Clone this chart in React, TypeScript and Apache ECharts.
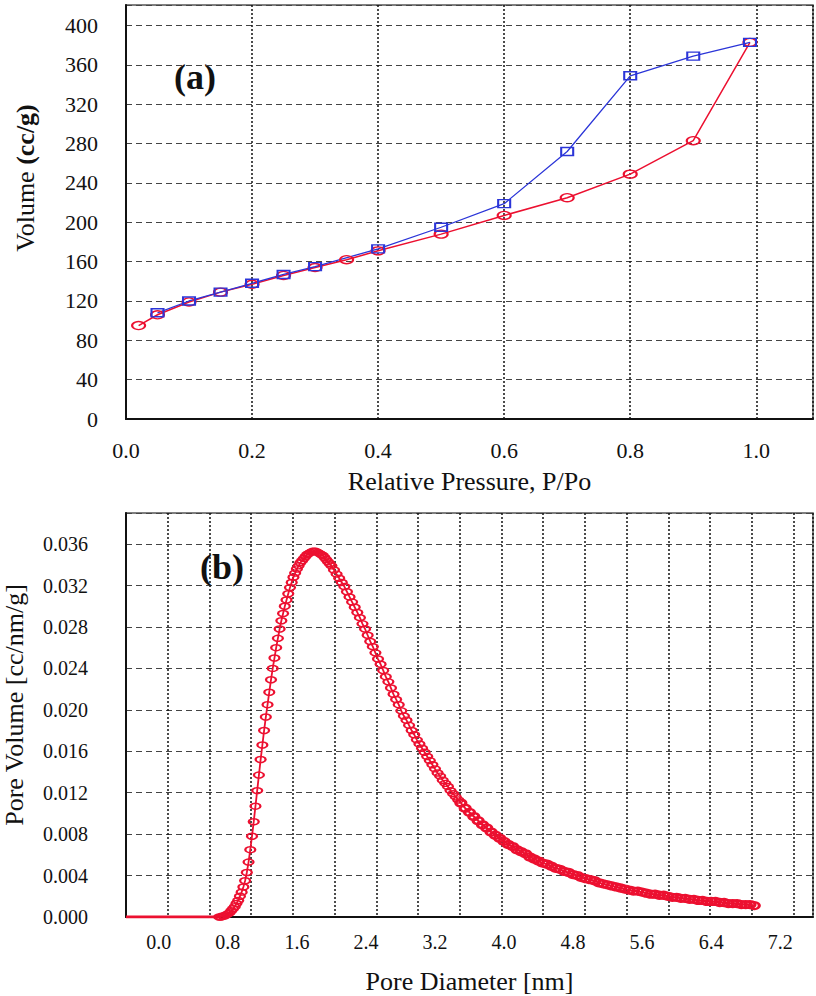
import React, { useEffect, useRef } from "react";
import * as echarts from "echarts";

// ---------- (a) N2 isotherm ----------
const adsP = [0.02, 0.05, 0.1, 0.15, 0.2, 0.25, 0.3, 0.35, 0.4, 0.5, 0.6, 0.7, 0.8, 0.9, 0.99];
const adsV = [95, 106, 119, 129, 137, 146, 154, 162, 171, 188, 207, 225, 249, 283, 383];
const desP = [0.05, 0.1, 0.15, 0.2, 0.25, 0.3, 0.4, 0.5, 0.6, 0.7, 0.8, 0.9, 0.99];
const desV = [108, 120, 129, 138, 147, 155, 173, 195, 219, 272, 349, 369, 383];

// ---------- (b) pore size distribution ----------
const psdBaseline: [number, number][] = [[-0.38, 0], [0.72, 0]];
const psdRise: [number, number][] = [
  [0.7, 0.0], [0.72, 0.0], [0.74, 0.0001], [0.76, 0.0001], [0.78, 0.0002], [0.8, 0.0003],
  [0.82, 0.0004], [0.84, 0.0006], [0.86, 0.0008], [0.88, 0.001], [0.9, 0.0013], [0.92, 0.0016],
  [0.94, 0.002], [0.96, 0.0024], [0.98, 0.0029], [1.0, 0.0035], [1.02, 0.0043], [1.04, 0.0053],
  [1.06, 0.0065], [1.08, 0.0078], [1.1, 0.0092], [1.12, 0.0107], [1.14, 0.0122], [1.16, 0.0137],
  [1.18, 0.0152], [1.2, 0.0166], [1.22, 0.018], [1.24, 0.0193], [1.26, 0.0205], [1.28, 0.0217],
  [1.3, 0.0229], [1.32, 0.024], [1.34, 0.025], [1.36, 0.026], [1.38, 0.0269], [1.4, 0.0278],
  [1.42, 0.0286], [1.44, 0.0293], [1.46, 0.03], [1.48, 0.0306], [1.5, 0.0312], [1.52, 0.0318],
  [1.54, 0.0323], [1.56, 0.0328], [1.58, 0.0332], [1.6, 0.0336], [1.62, 0.0339], [1.64, 0.0342],
  [1.66, 0.0344], [1.68, 0.0346], [1.7, 0.0348], [1.72, 0.035], [1.74, 0.0351], [1.76, 0.0352],
  [1.78, 0.0353], [1.8, 0.0353], [1.82, 0.0353], [1.84, 0.0352], [1.86, 0.0351], [1.88, 0.035],
  [1.9, 0.0349], [1.92, 0.0347], [1.94, 0.0345], [1.96, 0.0343], [1.98, 0.0341], [2.0, 0.0339],
];
const psdFall: [number, number][] = [
  [2.03, 0.0335], [2.06, 0.0331], [2.09, 0.0327], [2.12, 0.0323], [2.15, 0.0319], [2.18, 0.0314],
  [2.21, 0.0309], [2.24, 0.0304], [2.27, 0.0299], [2.3, 0.0294], [2.33, 0.0289], [2.36, 0.0283],
  [2.39, 0.0278], [2.42, 0.0272], [2.45, 0.0266], [2.48, 0.0261], [2.51, 0.0255], [2.54, 0.0249],
  [2.57, 0.0244], [2.6, 0.0238], [2.63, 0.0232], [2.66, 0.0227], [2.69, 0.0221], [2.72, 0.0215],
  [2.75, 0.021], [2.78, 0.0205], [2.81, 0.0199], [2.84, 0.0194], [2.87, 0.019], [2.9, 0.0185],
  [2.93, 0.018], [2.96, 0.0176], [2.99, 0.0171], [3.02, 0.0167], [3.05, 0.0163], [3.08, 0.0159],
  [3.11, 0.0155], [3.14, 0.0151], [3.17, 0.0147], [3.2, 0.0143], [3.23, 0.0139], [3.26, 0.0136],
  [3.29, 0.0132], [3.32, 0.0129], [3.35, 0.0126], [3.38, 0.0122], [3.41, 0.0119], [3.44, 0.0116],
  [3.47, 0.0113], [3.5, 0.011],
];
const psdTail: [number, number][] = [
  [3.5, 0.011],
  [3.55, 0.0105], [3.6, 0.0101], [3.65, 0.0097], [3.7, 0.0093], [3.75, 0.0089], [3.8, 0.0086],
  [3.85, 0.0082], [3.9, 0.0079], [3.95, 0.0076], [4.0, 0.0073], [4.05, 0.007], [4.1, 0.0068],
  [4.15, 0.0065], [4.2, 0.0063], [4.25, 0.0061], [4.3, 0.0058], [4.35, 0.0056], [4.4, 0.0054],
  [4.45, 0.0052], [4.5, 0.0051], [4.55, 0.0049], [4.6, 0.0047], [4.65, 0.0046], [4.7, 0.0044],
  [4.75, 0.0043], [4.8, 0.0041], [4.85, 0.004], [4.9, 0.0038], [4.95, 0.0037], [5.0, 0.0036],
  [5.05, 0.0035], [5.1, 0.0033], [5.15, 0.0032], [5.2, 0.0031], [5.25, 0.003], [5.3, 0.0029],
  [5.35, 0.0028], [5.4, 0.0027], [5.45, 0.0026], [5.5, 0.0025], [5.55, 0.0025], [5.6, 0.0024],
  [5.65, 0.0023], [5.7, 0.0022], [5.75, 0.0022], [5.8, 0.0021], [5.85, 0.0021], [5.9, 0.002],
  [5.95, 0.0019], [6.0, 0.0019], [6.05, 0.0018], [6.1, 0.0018], [6.15, 0.0017], [6.2, 0.0017],
  [6.25, 0.0016], [6.3, 0.0016], [6.35, 0.0015], [6.4, 0.0015], [6.45, 0.0015], [6.5, 0.0014],
  [6.55, 0.0014], [6.6, 0.0013], [6.65, 0.0013], [6.7, 0.0013], [6.75, 0.0012], [6.8, 0.0012],
  [6.85, 0.0012], [6.9, 0.0011],
];
const psdLabelTicks = [0, 0.8, 1.6, 2.4, 3.2, 4.0, 4.8, 5.6, 6.4, 7.2];

const FONT = "Liberation Serif";
const RED = "#ec1030";
const BLUE = "#2b35d8";
const TRANSPARENT = "rgba(0,0,0,0)";

const dashedGrid = { show: true, lineStyle: { type: [6, 4] as any, color: "#444", width: 1 } };
const dottedGrid = { show: true, lineStyle: { type: [2, 2] as any, color: "#111", width: 1.5 } };
const axisLineStyle = { show: true, onZero: false, lineStyle: { color: "#111", width: 2 } };

const serifLabel = (size: number, margin: number, digits: number | null, extra: any = {}) => ({
  fontSize: size,
  fontFamily: FONT,
  fontWeight: "normal",
  color: "#111",
  margin,
  formatter: (v: number) => `{s|${digits === null ? String(v) : v.toFixed(digits)}}`,
  rich: { s: { fontSize: size, fontFamily: FONT, fontWeight: "normal", color: "#111" } },
  ...extra,
});

function buildOption() {
  return {
    animation: false,
    backgroundColor: "#fff",
    textStyle: { fontFamily: FONT },
    grid: [
      { left: 126, top: 5, width: 687, height: 414, show: true, borderColor: "#555", borderWidth: 1.5, containLabel: false },
      { left: 126, top: 513, width: 687, height: 404, show: true, borderColor: "#555", borderWidth: 1.5, containLabel: false },
    ],
    xAxis: [
      {
        gridIndex: 0, type: "value", min: 0, max: 1.09, interval: 0.2,
        axisLine: axisLineStyle, axisTick: { show: false },
        axisLabel: serifLabel(22, 20, 1, { showMaxLabel: false }),
        splitLine: dottedGrid,
        name: "Relative Pressure, P/Po", nameLocation: "middle", nameGap: 49,
        nameTextStyle: { fontSize: 26, fontFamily: FONT, color: "#111" },
      },
      {
        gridIndex: 1, type: "value", min: -0.38, max: 7.58,
        axisLine: axisLineStyle, axisTick: { show: false },
        axisLabel: serifLabel(20, 15, 1, { customValues: psdLabelTicks }),
        splitLine: { show: false },
        name: "Pore Diameter [nm]", nameLocation: "middle", nameGap: 51,
        nameTextStyle: { fontSize: 26, fontFamily: FONT, color: "#111" },
      },
      {
        gridIndex: 1, type: "value", position: "top", min: 0, max: 16.47, interval: 1,
        axisLine: { show: false }, axisTick: { show: false }, axisLabel: { show: false },
        splitLine: dottedGrid,
      },
    ],
    yAxis: [
      {
        gridIndex: 0, type: "value", min: 0, max: 421, interval: 40,
        axisLine: axisLineStyle, axisTick: { show: false },
        axisLabel: serifLabel(22, 28, null, { showMaxLabel: false }),
        splitLine: dashedGrid,
      },
      {
        gridIndex: 1, type: "value", min: 0, max: 0.039, interval: 0.004,
        axisLine: axisLineStyle, axisTick: { show: false },
        axisLabel: serifLabel(20, 38, 3, { showMaxLabel: false }),
        splitLine: dashedGrid,
      },
    ],
    graphic: [
      {
        type: "text", x: 25, y: 178, rotation: Math.PI / 2,
        style: {
          text: "{n|Volume }{b|(cc/g)}",
          textAlign: "center", textVerticalAlign: "middle",
          rich: {
            n: { fontSize: 26, fontFamily: FONT, fill: "#111" },
            b: { fontSize: 26, fontFamily: FONT, fontWeight: "bold", fill: "#111" },
          },
        },
      },
      {
        type: "text", x: 14, y: 705, rotation: Math.PI / 2,
        style: { text: "Pore Volume [cc/nm/g]", font: `26px ${FONT}`, fill: "#111",
          textAlign: "center", textVerticalAlign: "middle" },
      },
      {
        type: "text", x: 195, y: 77,
        style: { text: "(a)", font: `bold 36px ${FONT}`, fill: "#111", textAlign: "center", textVerticalAlign: "middle" },
      },
      {
        type: "text", x: 222, y: 567,
        style: { text: "(b)", font: `bold 36px ${FONT}`, fill: "#111", textAlign: "center", textVerticalAlign: "middle" },
      },
    ],
    series: [
      {
        type: "line", xAxisIndex: 0, yAxisIndex: 0, name: "Adsorption",
        data: adsP.map((p, i) => [p, adsV[i]]),
        symbol: "circle", symbolSize: [13, 8],
        itemStyle: { color: TRANSPARENT, borderColor: RED, borderWidth: 1.7 },
        lineStyle: { color: RED, width: 1.5 },
      },
      {
        type: "line", xAxisIndex: 0, yAxisIndex: 0, name: "Desorption",
        data: desP.map((p, i) => [p, desV[i]]),
        symbol: "rect", symbolSize: [12, 8],
        itemStyle: { color: TRANSPARENT, borderColor: BLUE, borderWidth: 1.7 },
        lineStyle: { color: BLUE, width: 1.3 },
      },
      {
        type: "line", xAxisIndex: 1, yAxisIndex: 1, name: "baseline",
        data: psdBaseline, symbol: "none",
        lineStyle: { color: RED, width: 3 },
      },
      {
        type: "line", xAxisIndex: 1, yAxisIndex: 1, name: "PSD",
        data: [...psdRise, ...psdFall],
        symbol: "circle", symbolSize: [10, 6],
        itemStyle: { color: TRANSPARENT, borderColor: RED, borderWidth: 1.8 },
        lineStyle: { color: RED, width: 1.8 },
      },
      {
        type: "line", xAxisIndex: 1, yAxisIndex: 1, name: "PSD tail",
        data: psdTail,
        symbol: "circle", symbolSize: [10, 7],
        itemStyle: { color: TRANSPARENT, borderColor: RED, borderWidth: 2.6 },
        lineStyle: { color: RED, width: 2 },
      },
    ],
  };
}

export default function App() {
  const ref = useRef<HTMLDivElement>(null);
  useEffect(() => {
    if (!ref.current) return;
    const chart = echarts.init(ref.current, null, { renderer: "svg" });
    chart.setOption(buildOption() as any);
    return () => chart.dispose();
  }, []);
  return (
    <div
      ref={ref}
      style={{ position: "fixed", left: 0, top: 0, width: 816, height: 996, background: "#fff" }}
    />
  );
}
